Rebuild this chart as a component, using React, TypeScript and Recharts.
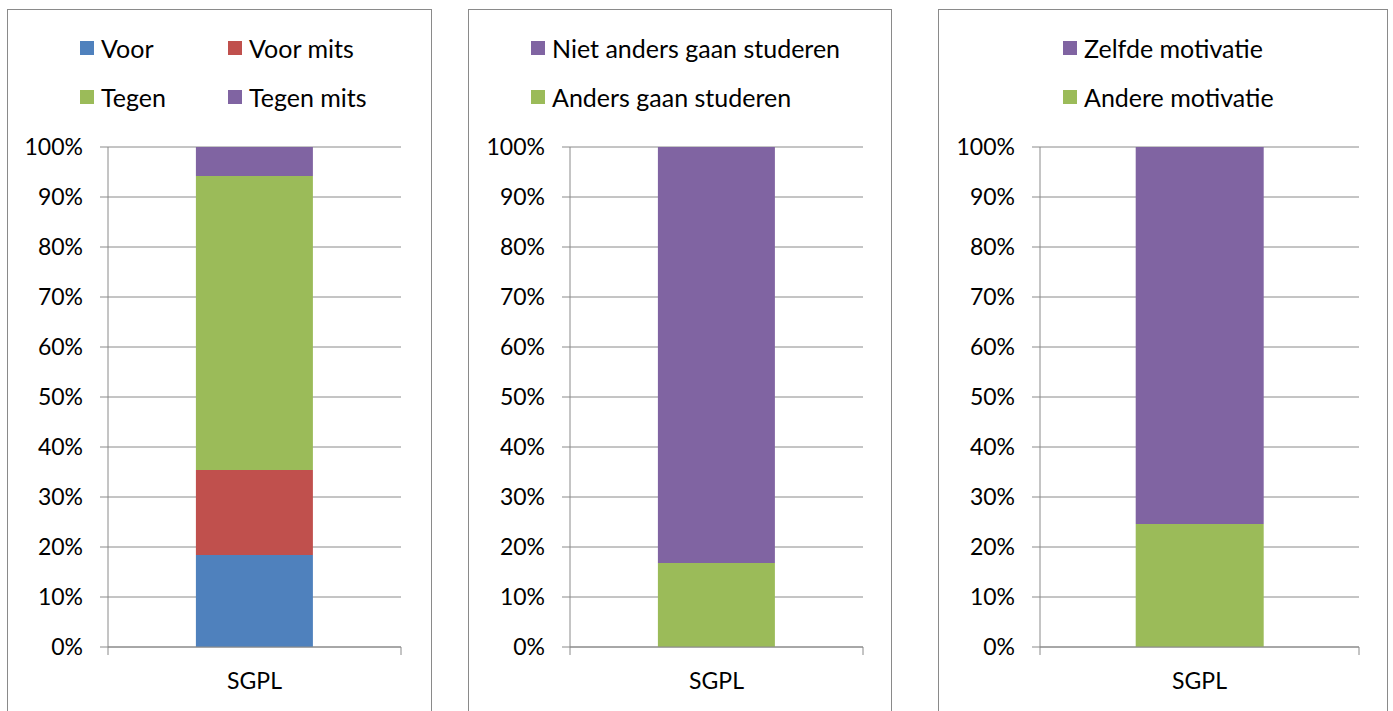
import React from 'react';
import { BarChart, Bar, XAxis, YAxis, CartesianGrid, Legend } from 'recharts';

const categories = ['SGPL'];
const yTicks = [0, 10, 20, 30, 40, 50, 60, 70, 80, 90, 100];

const chart1Series = ['Voor', 'Voor mits', 'Tegen', 'Tegen mits'];
const chart1Values = [18.4, 17.0, 58.8, 5.8];
const chart1Colors = ['#4F81BD', '#C0504D', '#9BBB59', '#8064A2'];
const chart1LegendOrder = ['Voor', 'Voor mits', 'Tegen', 'Tegen mits'];

const chart2Series = ['Anders gaan studeren', 'Niet anders gaan studeren'];
const chart2Values = [16.8, 83.2];
const chart2Colors = ['#9BBB59', '#8064A2'];
const chart2LegendOrder = ['Niet anders gaan studeren', 'Anders gaan studeren'];

const chart3Series = ['Andere motivatie', 'Zelfde motivatie'];
const chart3Values = [24.6, 75.4];
const chart3Colors = ['#9BBB59', '#8064A2'];
const chart3LegendOrder = ['Zelfde motivatie', 'Andere motivatie'];

const FONT = 'Lato, "Noto Sans", sans-serif';
const FS_LEGEND = 25;
const FS_TICK = 23;
const GREY = '#8a8a8a';

type PanelCfg = {
  left: number;
  width: number;
  yAxisWidth: number;
  marginRight: number;
  series: string[];
  values: number[];
  colors: string[];
  legendOrder: string[];
  legendPos: { x: number; y: number }[];
};

const panels: PanelCfg[] = [
  {
    left: 7, width: 425, yAxisWidth: 101, marginRight: 31,
    series: chart1Series, values: chart1Values, colors: chart1Colors, legendOrder: chart1LegendOrder,
    legendPos: [{ x: 73, y: 48 }, { x: 221, y: 48 }, { x: 73, y: 97 }, { x: 221, y: 97 }],
  },
  {
    left: 468, width: 424, yAxisWidth: 102, marginRight: 29,
    series: chart2Series, values: chart2Values, colors: chart2Colors, legendOrder: chart2LegendOrder,
    legendPos: [{ x: 63, y: 48 }, { x: 63, y: 97 }],
  },
  {
    left: 938, width: 450, yAxisWidth: 102, marginRight: 29,
    series: chart3Series, values: chart3Values, colors: chart3Colors, legendOrder: chart3LegendOrder,
    legendPos: [{ x: 125, y: 48 }, { x: 125, y: 97 }],
  },
];

const CHART_H = 711;

function CategoryTick(props: any) {
  const { x, y, payload, width } = props;
  const half = payload && typeof payload.offset === 'number' && payload.offset > 0 ? payload.offset : width / 2;
  return (
    <g>
      <line x1={x - half} x2={x - half} y1={y} y2={y + 8} stroke={GREY} strokeWidth={1} />
      <line x1={x + half} x2={x + half} y1={y} y2={y + 8} stroke={GREY} strokeWidth={1} />
      <text x={x} y={y + 26} dy="0.71em" textAnchor="middle" fill="#000" fontFamily={FONT} fontSize={FS_TICK}>
        {payload.value}
      </text>
    </g>
  );
}

function Panel({ cfg }: { cfg: PanelCfg }) {
  const data = categories.map((c) => {
    const row: Record<string, any> = { name: c };
    cfg.series.forEach((s, i) => (row['s' + i] = cfg.values[i]));
    return row;
  });

  const renderLegend = (props: any) => {
    const payload: any[] = props.payload || [];
    const sorted = cfg.legendOrder
      .map((n) => payload.find((p) => p.value === n))
      .filter(Boolean);
    return (
      <div style={{ position: 'relative', width: cfg.width, height: 130 }}>
        {sorted.map((p: any, i: number) => (
          <div
            key={p.value}
            style={{
              position: 'absolute',
              left: cfg.legendPos[i].x,
              top: cfg.legendPos[i].y - 16,
              height: 32,
              display: 'flex',
              alignItems: 'center',
              whiteSpace: 'nowrap',
              fontFamily: FONT,
              fontSize: FS_LEGEND,
              color: '#000',
            }}
          >
            <span style={{ display: 'inline-block', width: 14, height: 14, background: p.color, marginRight: 7 }} />
            <span>{p.value}</span>
          </div>
        ))}
      </div>
    );
  };

  return (
    <>
      <div
        style={{
          position: 'absolute',
          left: cfg.left,
          top: 9,
          width: cfg.width - 2,
          height: 760,
          border: `1px solid ${GREY}`,
          background: '#fff',
        }}
      />
      <div style={{ position: 'absolute', left: cfg.left, top: 0 }}>
        <BarChart
          width={cfg.width}
          height={CHART_H}
          data={data}
          margin={{ top: 147, right: cfg.marginRight, left: 0, bottom: 0 }}
          barCategoryGap="30%"
        >
          <CartesianGrid vertical={false} stroke={GREY} strokeWidth={1} />
          <XAxis
            dataKey="name"
            height={64}
            tickSize={0}
            tickMargin={0}
            tickLine={false}
            axisLine={{ stroke: GREY }}
            tick={<CategoryTick />}
          />
          <YAxis
            width={cfg.yAxisWidth}
            domain={[0, 100]}
            ticks={yTicks}
            interval={0}
            tickFormatter={(v: number) => `${v}%`}
            tickSize={8}
            tickMargin={17}
            axisLine={{ stroke: GREY }}
            tickLine={{ stroke: GREY }}
            tick={{ fill: '#000', fontFamily: FONT, fontSize: FS_TICK }}
          />
          <Legend
            verticalAlign="middle"
            align="center"
            layout="horizontal"
            content={renderLegend}
            wrapperStyle={{ position: 'absolute', top: 0, left: 0, width: cfg.width, height: 130 }}
          />
          {cfg.series.map((s, i) => (
            <Bar
              key={s}
              dataKey={'s' + i}
              name={s}
              stackId="a"
              fill={cfg.colors[i]}
              isAnimationActive={false}
            />
          ))}
        </BarChart>
      </div>
    </>
  );
}

export default function App() {
  return (
    <div
      style={{
        position: 'absolute',
        left: 0,
        top: 0,
        width: 1393,
        height: 711,
        overflow: 'hidden',
        background: '#fff',
      }}
    >
      {panels.map((p, i) => (
        <Panel key={i} cfg={p} />
      ))}
    </div>
  );
}
